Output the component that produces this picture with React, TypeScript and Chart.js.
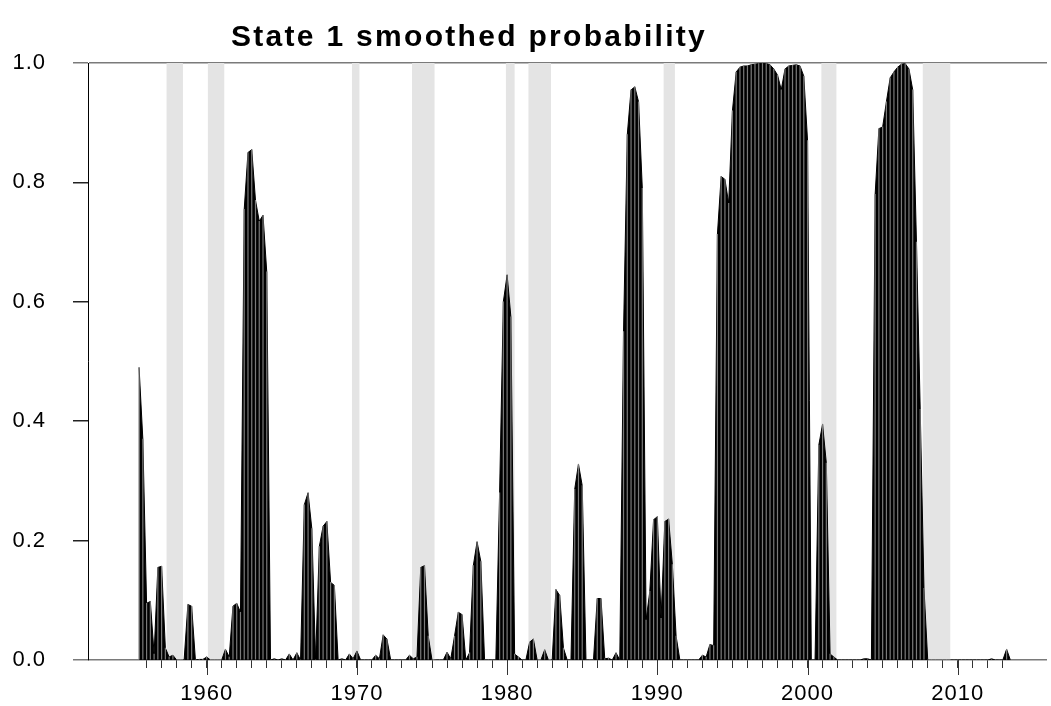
import React, { useEffect, useRef } from "react";
import { Chart, registerables } from "chart.js";

Chart.register(...registerables);

// quarterly smoothed probability of state 1, starting 1955 Q3
const START_YEAR = 1955.5;
const STEP = 0.25;
const PROBABILITY = [
  0.49, 0.37, 0.095, 0.098, 0.01, 0.155, 0.157, 0.02, 0.005, 0.008,
  0.0, 0.0, 0.0, 0.093, 0.09, 0.0, 0.001, 0.001, 0.005, 0.0,
  0.0, 0.0, 0.0, 0.018, 0.005, 0.09, 0.095, 0.08, 0.755, 0.85,
  0.855, 0.77, 0.735, 0.745, 0.65, 0.0, 0.002, 0.0, 0.002, 0.0,
  0.01, 0.0, 0.012, 0.0, 0.26, 0.28, 0.22, 0.0, 0.19, 0.224,
  0.232, 0.13, 0.125, 0.0, 0.002, 0.0, 0.01, 0.002, 0.015, 0.0,
  0.0, 0.0, 0.0, 0.008, 0.002, 0.042, 0.035, 0.0, 0.0, 0.0,
  0.0, 0.0, 0.008, 0.002, 0.005, 0.155, 0.158, 0.04, 0.0, 0.0,
  0.0, 0.0, 0.013, 0.002, 0.04, 0.08, 0.076, 0.0, 0.012, 0.158,
  0.198, 0.165, 0.0, 0.0, 0.0, 0.0, 0.28, 0.6, 0.645, 0.575,
  0.01, 0.005, 0.0, 0.0, 0.03, 0.035, 0.0, 0.0, 0.017, 0.0,
  0.0, 0.118, 0.108, 0.02, 0.0, 0.0, 0.286, 0.328, 0.292, 0.0,
  0.0, 0.0, 0.103, 0.103, 0.002, 0.003, 0.0, 0.012, 0.0, 0.55,
  0.88, 0.955, 0.96, 0.935, 0.79, 0.067, 0.115, 0.235, 0.24, 0.07,
  0.232, 0.236, 0.16, 0.04, 0.0, 0.0, 0.0, 0.0, 0.0, 0.0,
  0.008, 0.005, 0.026, 0.024, 0.713, 0.81, 0.805, 0.765, 0.92, 0.985,
  0.993, 0.995, 0.995, 0.997, 0.998, 0.999, 0.999, 0.999, 0.997, 0.99,
  0.98, 0.955, 0.99, 0.995, 0.996, 0.997, 0.995, 0.978, 0.87, 0.0,
  0.0, 0.36, 0.395, 0.33, 0.01, 0.005, 0.0, 0.0, 0.0, 0.0,
  0.0, 0.0, 0.0, 0.002, 0.002, 0.0, 0.78, 0.89, 0.893, 0.935,
  0.975, 0.985, 0.993, 0.998, 0.999, 0.99, 0.955, 0.7, 0.42, 0.12,
  0.0, 0.0, 0.0, 0.0, 0.0, 0.0, 0.0, 0.0, 0.0, 0.0,
  0.0, 0.0, 0.0, 0.0, 0.0, 0.0, 0.0, 0.002, 0.0, 0.0,
  0.0, 0.018, 0.0,
];

// shaded recession periods (decimal years)
const RECESSION_START = [1957.33, 1960.08, 1969.67, 1973.67, 1979.92, 1981.42, 1990.42, 2000.92, 2007.67];
const RECESSION_END = [1958.42, 1961.17, 1970.17, 1975.17, 1980.5, 1982.92, 1991.17, 2001.92, 2009.5];

const Y_TICKS = [0, 0.2, 0.4, 0.6, 0.8, 1.0];
const DECADE_LABELS = [1960, 1970, 1980, 1990, 2000, 2010];
const FIRST_TICK_YEAR = 1956;
const LAST_TICK_YEAR = 2013;
const X_MIN = 1952.1;
const X_MAX = 2015.94;

const TITLE = "State 1 smoothed probability";
const FONT = '"Liberation Sans", Arial, sans-serif';

export default function App() {
  const ref = useRef<HTMLCanvasElement | null>(null);

  useEffect(() => {
    document.body.style.margin = "0";
    const canvas = ref.current;
    if (!canvas) return;

    const points = PROBABILITY.map((v, i) => ({ x: START_YEAR + i * STEP, y: v }));
    const yearTicks: number[] = [];
    for (let y = FIRST_TICK_YEAR; y <= LAST_TICK_YEAR; y++) yearTicks.push(y);

    const bandsPlugin = {
      id: "bands",
      beforeDraw(chart: any) {
        (chart.ctx as any).letterSpacing = "1px";
      },
      beforeDatasetsDraw(chart: any) {
        const { ctx, chartArea, scales } = chart;
        ctx.save();
        ctx.fillStyle = "#e4e4e4";
        RECESSION_START.forEach((s, i) => {
          const x0 = scales.x.getPixelForValue(s);
          const x1 = scales.x.getPixelForValue(RECESSION_END[i]);
          ctx.fillRect(x0, chartArea.top, x1 - x0, chartArea.bottom - chartArea.top);
        });
        ctx.restore();
      },
    };

    const decorPlugin = {
      id: "decor",
      afterDraw(chart: any) {
        const { ctx, chartArea, scales } = chart;
        ctx.save();
        ctx.strokeStyle = "#333";
        ctx.lineWidth = 1;
        DECADE_LABELS.forEach((d) => {
          const px = Math.round(scales.x.getPixelForValue(d)) + 0.5;
          ctx.beginPath();
          ctx.moveTo(px, chartArea.bottom);
          ctx.lineTo(px, chartArea.bottom + 15);
          ctx.stroke();
        });
        ctx.fillStyle = "#000";
        ctx.font = `bold 30px ${FONT}`;
        (ctx as any).letterSpacing = "2.3px";
        ctx.textAlign = "center";
        ctx.textBaseline = "alphabetic";
        ctx.fillText(TITLE, 469, 46);
        ctx.restore();
      },
    };

    const chart = new Chart(canvas, {
      type: "line",
      data: {
        datasets: [
          {
            type: "bar",
            data: points,
            backgroundColor: "#7a7a7a",
            barThickness: 0.55,
            grouped: false,
            order: 1,
          } as any,
          {
            type: "line",
            data: points,
            borderColor: "#000",
            backgroundColor: "#000",
            borderWidth: 1,
            fill: "origin",
            pointRadius: 0,
            tension: 0,
            order: 2,
          },
        ],
      },
      options: {
        animation: false,
        responsive: false,
        maintainAspectRatio: false,
        events: [],
        layout: { padding: { top: 63, right: 4, left: 0, bottom: 0 } },
        plugins: {
          legend: { display: false },
          tooltip: { enabled: false },
          title: { display: false },
        },
        scales: {
          x: {
            type: "linear",
            min: X_MIN,
            max: X_MAX,
            offset: false,
            afterBuildTicks: (scale: any) => {
              scale.ticks = yearTicks.map((v) => ({ value: v }));
            },
            afterFit: (scale: any) => {
              scale.height = 46;
            },
            ticks: {
              autoSkip: false,
              maxRotation: 0,
              minRotation: 0,
              padding: 13,
              color: "#000",
              font: { family: FONT, size: 22 },
              callback: (v: any) => (DECADE_LABELS.includes(Number(v)) ? String(v) : ""),
            },
            grid: {
              offset: false,
              drawOnChartArea: false,
              drawTicks: true,
              tickLength: 8,
              tickColor: "#333",
            },
            border: { display: false },
          },
          y: {
            type: "linear",
            min: 0,
            max: 1,
            afterBuildTicks: (scale: any) => {
              scale.ticks = Y_TICKS.map((v) => ({ value: v }));
            },
            afterFit: (scale: any) => {
              scale.width = 88;
            },
            ticks: {
              padding: 27,
              color: "#000",
              font: { family: FONT, size: 22 },
              callback: (v: any) => Number(v).toFixed(1),
            },
            grid: {
              drawOnChartArea: true,
              drawTicks: true,
              tickLength: 15,
              lineWidth: 1.5,
              color: (c: any) => (c.tick && (c.tick.value === 0 || c.tick.value === 1) ? "#7a7a7a" : "rgba(0,0,0,0)"),
              tickColor: (c: any) => (c.tick && (c.tick.value === 0 || c.tick.value === 1) ? "#7a7a7a" : "#222"),
            },
            border: { display: true, color: "#000", width: 1 },
          },
        },
      },
      plugins: [bandsPlugin, decorPlugin],
    });

    return () => chart.destroy();
  }, []);

  return (
    <div style={{ width: 1051, height: 706 }}>
      <canvas ref={ref} width={1051} height={706} style={{ display: "block", width: 1051, height: 706 }} />
    </div>
  );
}
